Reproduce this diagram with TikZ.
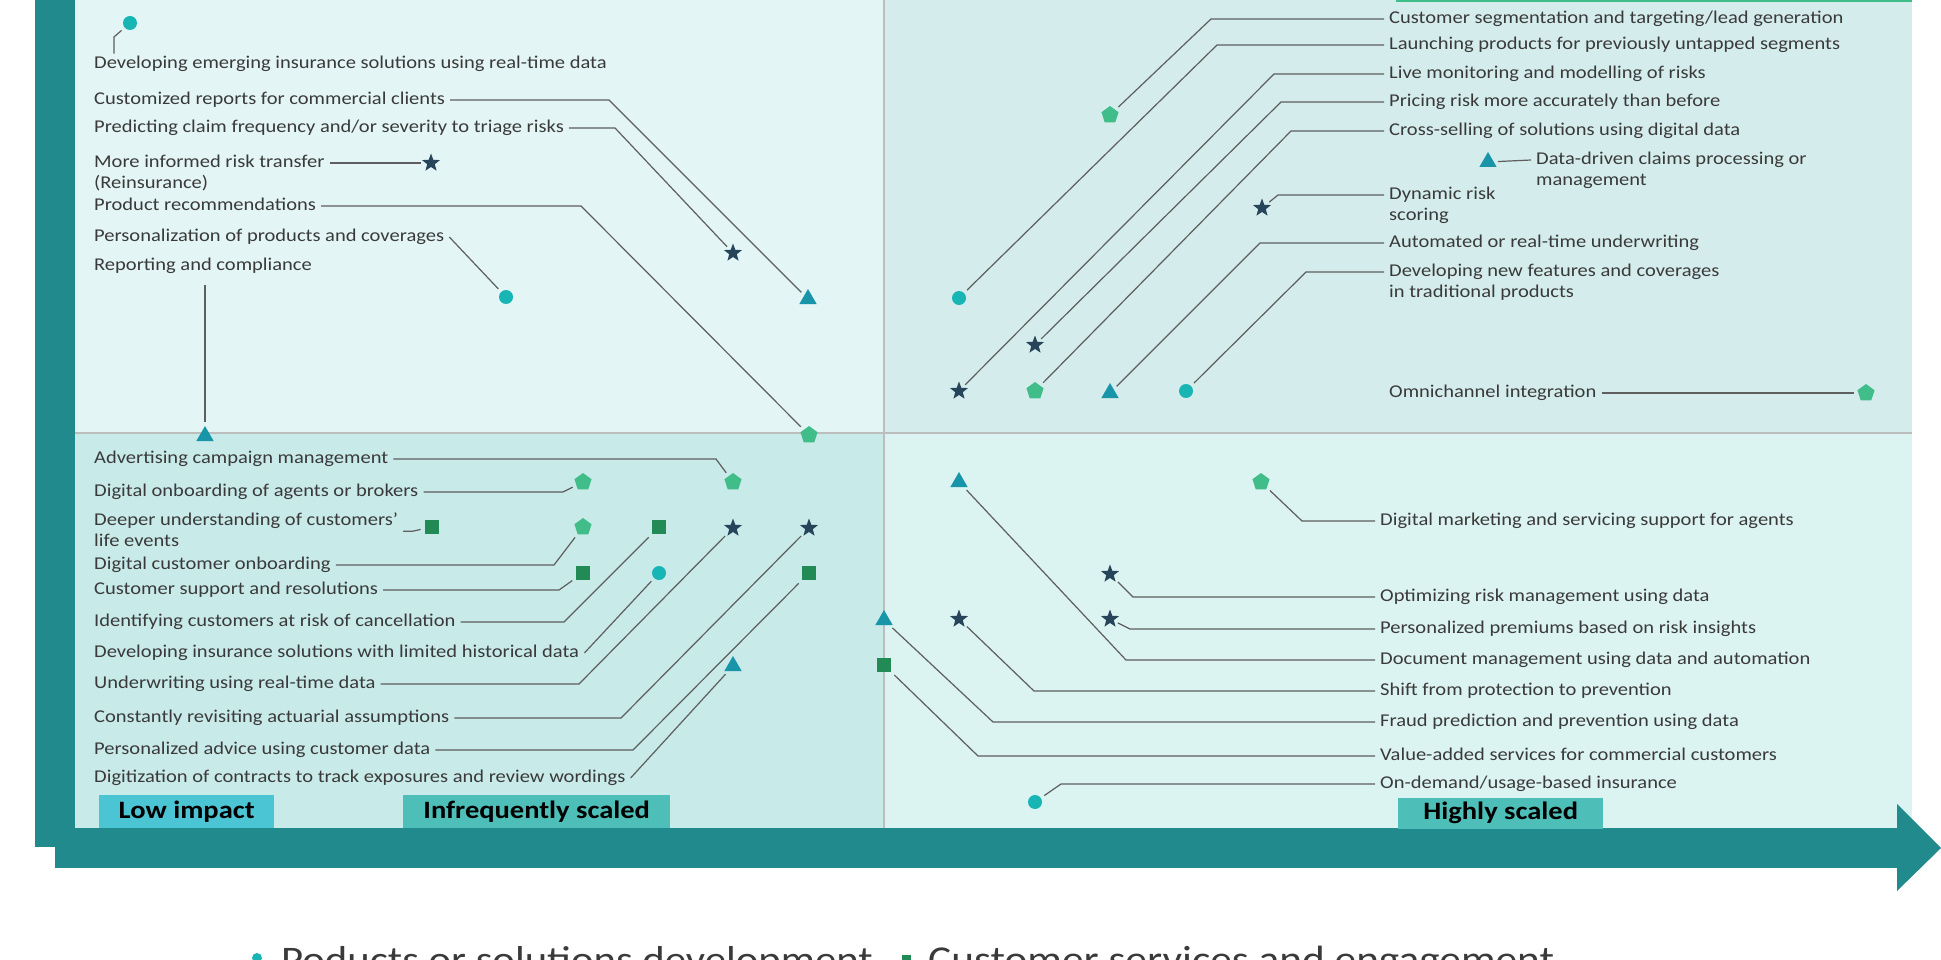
\documentclass[tikz,border=0pt]{standalone}
\usepackage{fontspec}
\setmainfont{Carlito}[FakeStretch=1.14]
\usetikzlibrary{positioning,shapes.geometric}

\definecolor{axisc}{HTML}{218A8C}
\definecolor{tlc}{HTML}{E3F5F5}
\definecolor{trc}{HTML}{D4EDEC}
\definecolor{blc}{HTML}{C8EAE9}
\definecolor{brc}{HTML}{DBF3F1}
\definecolor{divc}{HTML}{BDBDBD}
\definecolor{linec}{HTML}{5E5E5E}
\definecolor{textc}{HTML}{3A3A3A}
\definecolor{prodc}{HTML}{17B6B4}
\definecolor{servc}{HTML}{218A55}
\definecolor{riskc}{HTML}{27455A}
\definecolor{opsc}{HTML}{1895A9}
\definecolor{mktc}{HTML}{41BD8A}
\definecolor{lowc}{HTML}{4BC4D3}
\definecolor{midc}{HTML}{4DBFB8}

\tikzset{
  lbl/.style={anchor=west, inner xsep=5pt, inner ysep=2pt, text=textc, yshift=-2pt,
    font=\fontsize{18}{21}\selectfont, text height=12.6pt, text depth=3.6pt},
  link/.style={draw=linec, line width=1.2pt, shorten >=4pt},
  prodmark/.style={circle, fill=prodc, minimum size=14pt, inner sep=0pt},
  servmark/.style={rectangle, fill=servc, minimum size=14.5pt, inner sep=0pt},
  riskmark/.style={star, star points=5, star point ratio=2.4, fill=riskc, minimum size=19pt, inner sep=0pt},
  opsmark/.style={regular polygon, regular polygon sides=3, fill=opsc, minimum size=20pt, inner sep=0pt},
  mktmark/.style={regular polygon, regular polygon sides=5, fill=mktc, minimum size=18pt, inner sep=0pt},
  tagbox/.style={anchor=south west, inner sep=0pt, minimum height=33pt, text=black,
    font=\fontsize{25}{28}\selectfont\bfseries}
}

\begin{document}
\begin{tikzpicture}[x=1pt,y=-1pt]
\path[use as bounding box] (0,0) rectangle (1941,960);
\clip (0,0) rectangle (1941,960);

% quadrants
\fill[tlc] (75,0) rectangle (884,433);
\fill[trc] (884,0) rectangle (1912,433);
\fill[blc] (75,433) rectangle (884,828);
\fill[brc] (884,433) rectangle (1912,828);
\fill[mktc] (1396,0) rectangle (1912,2.5);
\draw[divc, line width=2.5pt] (884,0) -- (884,828) (75,433) -- (1912,433);

% axes
\fill[axisc] (35,0) rectangle (75,847);
\fill[axisc] (55,828) rectangle (1897,868);
\fill[axisc] (1897,804) -- (1941,848) -- (1897,891) -- cycle;

\node[tagbox, fill=lowc, minimum width=175pt] (low) at (99,828) {Low impact};
\node[tagbox, fill=midc, minimum width=267pt] (infreq) at (403,828) {Infrequently scaled};
\node[tagbox, fill=midc, minimum width=205pt, minimum height=31pt] (high) at (1398,829) {Highly scaled};

% upper left
\node[lbl] (tdev) at (89,62) {Developing emerging insurance solutions using real-time data};
\node[lbl] (tcust) at (89,98) {Customized reports for commercial clients};
\node[lbl] (tclaimf) at (89,126) {Predicting claim frequency and/or severity to triage risks};
\node[lbl] (trisk) at (89,161) {More informed risk transfer};
\node[lbl, anchor=north west, yshift=2pt] (trisk2) at (trisk.south west) {(Reinsurance)};
\node[lbl] (trec) at (89,204) {Product recommendations};
\node[lbl] (tpers) at (89,235) {Personalization of products and coverages};
\node[lbl] (trep) at (89,264) {Reporting and compliance};

\node[prodmark] (m1) at (130,23) {};
\node[riskmark] (m2) at (431,163) {};
\node[prodmark] (m3) at (506,297) {};
\node[riskmark] (m4) at (733,253) {};
\node[opsmark] (m5) at (808,299) {};
\node[opsmark] (m6) at (205,436) {};
\node[mktmark] (m7) at (809,435) {};

\draw[link] (tdev.north -| 114,0) -- (114,37) -- (m1);
\draw[link] (tcust.east) -- (tcust.east -| 609,0) -- (m5);
\draw[link] (tclaimf.east) -- (tclaimf.east -| 615,0) -- (m4);
\draw[link] (trisk.east) -- (m2);
\draw[link] (trec.east) -- (trec.east -| 581,0) -- (m7);
\draw[link] (tpers.east) -- (m3);
\draw[link, shorten <=9pt] (trep.south -| m6) -- (m6);

% upper right
\node[lbl] (tseg) at (1384,17) {Customer segmentation and targeting/lead generation};
\node[lbl] (tlaunch) at (1384,43) {Launching products for previously untapped segments};
\node[lbl] (tlive) at (1384,72) {Live monitoring and modelling of risks};
\node[lbl] (tprice) at (1384,100) {Pricing risk more accurately than before};
\node[lbl] (tcross) at (1384,129) {Cross-selling of solutions using digital data};
\node[lbl] (tdata) at (1531,158) {Data-driven claims processing or};
\node[lbl, anchor=north west, yshift=2pt] (tdata2) at (tdata.south west) {management};
\node[lbl] (tdyn) at (1384,193) {Dynamic risk};
\node[lbl, anchor=north west, yshift=2pt] (tdyn2) at (tdyn.south west) {scoring};
\node[lbl] (tauto) at (1384,241) {Automated or real-time underwriting};
\node[lbl] (tnew) at (1384,270) {Developing new features and coverages};
\node[lbl, anchor=north west, yshift=2pt] (tnew2) at (tnew.south west) {in traditional products};
\node[lbl] (tomni) at (1384,391) {Omnichannel integration};

\node[mktmark] (n1) at (1110,115) {};
\node[opsmark] (n2) at (1488,162) {};
\node[riskmark] (n3) at (1262,208) {};
\node[prodmark] (n4) at (959,298) {};
\node[riskmark] (n5) at (1035,345) {};
\node[riskmark] (n6) at (959,391) {};
\node[mktmark] (n7) at (1035,391) {};
\node[opsmark] (n8) at (1110,393) {};
\node[prodmark] (n9) at (1186,391) {};
\node[mktmark] (n10) at (1866,393) {};

\draw[link] (tseg.west) -- (tseg.west -| 1211,0) -- (n1);
\draw[link] (tlaunch.west) -- (tlaunch.west -| 1217,0) -- (n4);
\draw[link] (tlive.west) -- (tlive.west -| 1274,0) -- (n6);
\draw[link] (tprice.west) -- (tprice.west -| 1281,0) -- (n5);
\draw[link] (tcross.west) -- (tcross.west -| 1291,0) -- (n7);
\draw[link] (tdata.west) -- (n2);
\draw[link] (tdyn.west) -- (tdyn.west -| 1278,0) -- (n3);
\draw[link] (tauto.west) -- (tauto.west -| 1260,0) -- (n8);
\draw[link] (tnew.west) -- (tnew.west -| 1306,0) -- (n9);
\draw[link] (tomni.east) -- (n10);

% lower left
\node[lbl] (sa) at (89,457) {Advertising campaign management};
\node[lbl] (sb) at (89,490) {Digital onboarding of agents or brokers};
\node[lbl] (sc) at (89,519) {Deeper understanding of customers’};
\node[lbl, anchor=north west, yshift=2pt] (sc2) at (sc.south west) {life events};
\node[lbl] (sd) at (89,563) {Digital customer onboarding};
\node[lbl] (se) at (89,588) {Customer support and resolutions};
\node[lbl] (sf) at (89,620) {Identifying customers at risk of cancellation};
\node[lbl] (sg) at (89,651) {Developing insurance solutions with limited historical data};
\node[lbl] (sh) at (89,682) {Underwriting using real-time data};
\node[lbl] (si) at (89,716) {Constantly revisiting actuarial assumptions};
\node[lbl] (sj) at (89,748) {Personalized advice using customer data};
\node[lbl] (sk) at (89,776) {Digitization of contracts to track exposures and review wordings};

\node[mktmark] (p1) at (733,482) {};
\node[mktmark] (p2) at (583,482) {};
\node[servmark] (p3) at (432,527) {};
\node[mktmark] (p4) at (583,527) {};
\node[servmark] (p5) at (659,527) {};
\node[riskmark] (p6) at (733,528) {};
\node[riskmark] (p7) at (809,528) {};
\node[servmark] (p8) at (583,573) {};
\node[prodmark] (p9) at (659,573) {};
\node[servmark] (p10) at (809,573) {};
\node[opsmark] (p11) at (733,666) {};

\draw[link] (sa.east) -- (sa.east -| 716,0) -- (p1);
\draw[link] (sb.east) -- (sb.east -| 563,0) -- (p2);
\draw[link] (sc.south east) -- ++(9,0) -- (p3);
\draw[link] (sd.east) -- (sd.east -| 554,0) -- (p4);
\draw[link] (se.east) -- (se.east -| 559,0) -- (p8);
\draw[link] (sf.east) -- (sf.east -| 564,0) -- (p5);
\draw[link] (sg.east) -- (p9);
\draw[link] (sh.east) -- (sh.east -| 579,0) -- (p6);
\draw[link] (si.east) -- (si.east -| 621,0) -- (p7);
\draw[link] (sj.east) -- (sj.east -| 633,0) -- (p10);
\draw[link] (sk.east) -- (p11);

% lower right
\node[lbl] (ra) at (1375,519) {Digital marketing and servicing support for agents};
\node[lbl] (rb) at (1375,595) {Optimizing risk management using data};
\node[lbl] (rc) at (1375,627) {Personalized premiums based on risk insights};
\node[lbl] (rd) at (1375,658) {Document management using data and automation};
\node[lbl] (re) at (1375,689) {Shift from protection to prevention};
\node[lbl] (rf) at (1375,720) {Fraud prediction and prevention using data};
\node[lbl] (rg) at (1375,754) {Value-added services for commercial customers};
\node[lbl] (rh) at (1375,782) {On-demand/usage-based insurance};

\node[opsmark] (q1) at (959,482) {};
\node[mktmark] (q2) at (1261,482) {};
\node[riskmark] (q3) at (1110,574) {};
\node[riskmark] (q4) at (1110,619) {};
\node[riskmark] (q5) at (959,619) {};
\node[opsmark] (q6) at (884,620) {};
\node[servmark] (q7) at (884,665) {};
\node[prodmark] (q8) at (1035,802) {};

\draw[link] (ra.west) -- (ra.west -| 1302,0) -- (q2);
\draw[link] (rb.west) -- (rb.west -| 1133,0) -- (q3);
\draw[link] (rc.west) -- (rc.west -| 1130,0) -- (q4);
\draw[link] (rd.west) -- (rd.west -| 1126,0) -- (q1);
\draw[link] (re.west) -- (re.west -| 1034,0) -- (q5);
\draw[link] (rf.west) -- (rf.west -| 993,0) -- (q6);
\draw[link] (rg.west) -- (rg.west -| 978,0) -- (q7);
\draw[link] (rh.west) -- (rh.west -| 1061,0) -- (q8);

% legend
\node[prodmark, minimum size=10pt] (lgp) at (257,958) {};
\node[anchor=base west, inner sep=0pt, text=textc, font=\fontsize{37.5}{40}\selectfont] (lgpt) at (281,972) {Poducts or solutions development};
\node[servmark, minimum size=9pt] (lgs) at (906,959) {};
\node[anchor=base west, inner sep=0pt, text=textc, font=\fontsize{38}{40}\selectfont] (lgst) at (928,972) {Customer services and engagement};
\end{tikzpicture}
\end{document}
